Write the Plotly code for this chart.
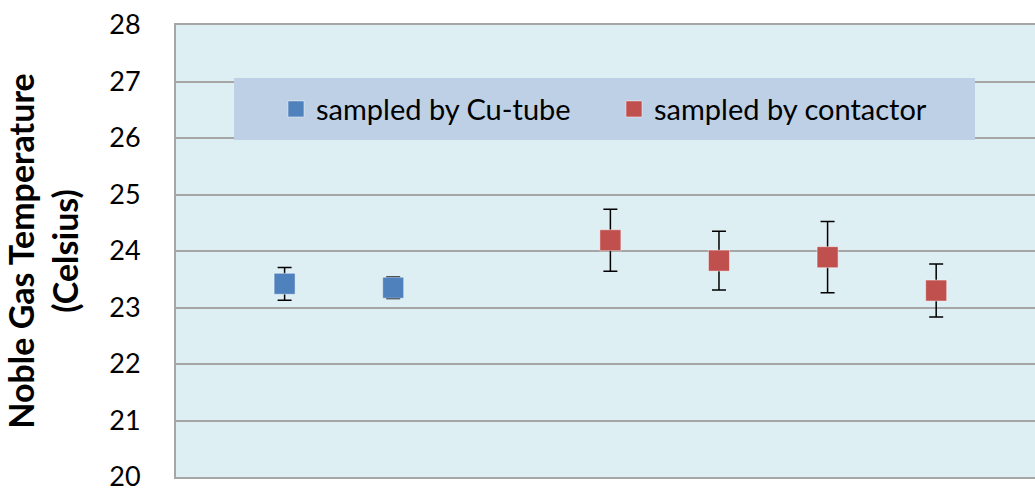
import plotly.graph_objects as go

# Data
cu_x = [1, 2]
cu_y = [23.42, 23.35]
cu_err = [0.29, 0.19]

ct_x = [4, 5, 6, 7]
ct_y = [24.19, 23.83, 23.89, 23.30]
ct_err = [0.55, 0.52, 0.63, 0.47]

y_ticks = [20, 21, 22, 23, 24, 25, 26, 27, 28]

BLUE = "#4f81bd"
RED = "#c0504d"
FONT = "Lato"

fig = go.Figure()
fig.add_trace(go.Scatter(
    x=cu_x, y=cu_y, mode="markers", name="sampled by Cu-tube",
    marker=dict(symbol="square", size=21, color=BLUE,
                line=dict(color="rgba(255,255,255,0.45)", width=1)),
    error_y=dict(type="data", array=cu_err, color="black", thickness=1.5, width=7),
))
fig.add_trace(go.Scatter(
    x=ct_x, y=ct_y, mode="markers", name="sampled by contactor",
    marker=dict(symbol="square", size=21, color=RED,
                line=dict(color="rgba(255,255,255,0.45)", width=1)),
    error_y=dict(type="data", array=ct_err, color="black", thickness=1.5, width=7),
))

fig.update_layout(
    width=1035, height=488,
    margin=dict(l=176, r=0, t=25, b=11),
    paper_bgcolor="white",
    plot_bgcolor="#deeff4",
    font=dict(family=FONT, color="black"),
    showlegend=True,
    legend=dict(
        orientation="h", x=0.1164, y=0.814, xanchor="left", yanchor="middle",
        bgcolor="rgba(0,0,0,0)", font=dict(size=29, family=FONT),
        itemsizing="trace", traceorder="normal", entrywidth=293,
    ),
    shapes=[dict(type="rect", xref="paper", yref="paper",
                 x0=(234 - 176) / 859, x1=(975 - 176) / 859,
                 y0=(477 - 140) / 452, y1=(477 - 78) / 452,
                 fillcolor="#bdd0e6", line=dict(width=0), layer="above")],
    xaxis=dict(range=[0, 7.91], showticklabels=False, showgrid=False,
               zeroline=False, showline=True, linecolor="#a6a6a6",
               linewidth=2, mirror=True, ticks="", automargin=False),
    yaxis=dict(range=[20, 28], tickvals=y_ticks, showgrid=True,
               gridcolor="#a6a6a6", gridwidth=1.5, zeroline=False,
               showline=True, linecolor="#a6a6a6", linewidth=2,
               ticks="", ticklabelstandoff=28, ticklabeloverflow="allow",
               tickfont=dict(size=27, family=FONT), automargin=False,
               title=dict(text="Noble Gas Temperature<br>(Celsius)",
                          font=dict(size=34, family=FONT, weight="bold"),
                          standoff=24)),
)

fig.write_html("out.html")
